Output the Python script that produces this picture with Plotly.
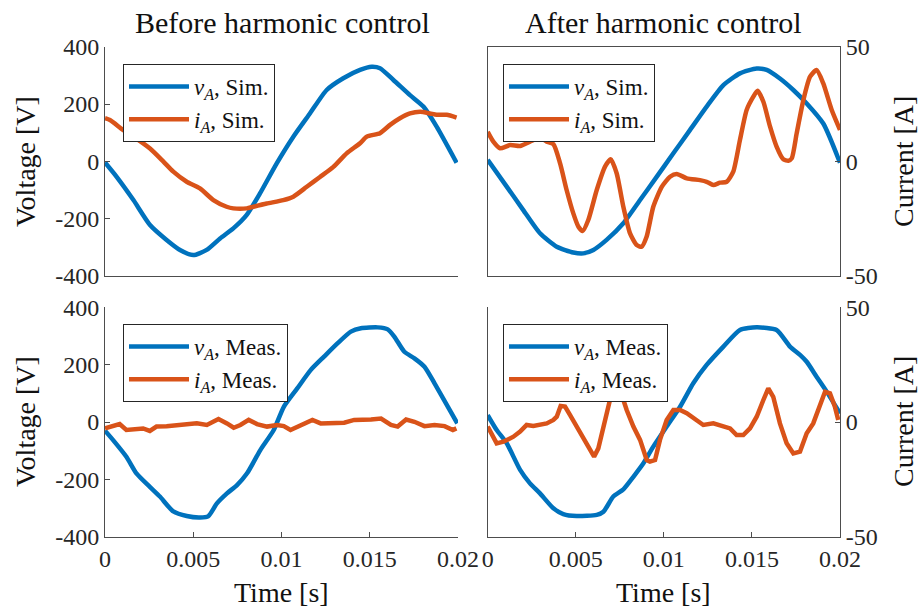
import plotly.graph_objects as go
from plotly.subplots import make_subplots

# ---------------- data ----------------
# Before harmonic control, simulation
t_bs_v = [0.0, 0.00066, 0.00161, 0.00255, 0.00349, 0.00425, 0.00500, 0.00576, 0.00652, 0.00727,
          0.00803, 0.00878, 0.00973, 0.01067, 0.01161, 0.01256, 0.01350, 0.01445, 0.01511, 0.01558,
          0.01634, 0.01728, 0.01804, 0.01879, 0.01992]
v_bs = [-4, -54, -135, -222, -274, -309, -327, -309, -269, -234,
        -187, -112, -7, 86, 167, 249, 290, 319, 330, 325,
        284, 231, 191, 121, -5]
t_bs_i = [0.0, 0.00028, 0.00104, 0.00161, 0.00255, 0.00331, 0.00387, 0.00463, 0.00538, 0.00614,
          0.00689, 0.00727, 0.00803, 0.00840, 0.00916, 0.01010, 0.01067, 0.01143, 0.01218, 0.01294,
          0.01369, 0.01445, 0.01483, 0.01558, 0.01615, 0.01671, 0.01728, 0.01785, 0.01841, 0.01879,
          0.01936, 0.01992]
i_bs = [18.8, 18.0, 13.6, 10.8, 5.6, -0.1, -4.5, -8.9, -11.8, -16.9,
        -19.8, -20.5, -20.5, -19.8, -18.4, -16.9, -15.4, -11.1, -6.8, -2.4,
        3.5, 7.9, 10.8, 12.3, 15.9, 18.8, 20.9, 21.6, 20.9, 20.3,
        20.3, 19.1]

# After harmonic control, simulation
t_as_v = [0.0, 0.00108, 0.00202, 0.00297, 0.00392, 0.00486, 0.00543, 0.00600, 0.00675, 0.00770,
          0.00865, 0.00959, 0.01054, 0.01148, 0.01243, 0.01338, 0.01432, 0.01527, 0.01584, 0.01659,
          0.01735, 0.01811, 0.01905, 0.02000]
v_as = [5, -88, -170, -251, -298, -318, -321, -309, -274, -216,
        -135, -54, 28, 109, 191, 266, 307, 324, 319, 289,
        249, 202, 132, -5]
t_as_i = [0.0, 0.00032, 0.00070, 0.00127, 0.00184, 0.00240, 0.00297, 0.00335, 0.00373, 0.00411,
          0.00448, 0.00486, 0.00515, 0.00539, 0.00571, 0.00619, 0.00666, 0.00698, 0.00732, 0.00770,
          0.00808, 0.00846, 0.00874, 0.00902, 0.00940, 0.00988, 0.01035, 0.01073, 0.01130, 0.01205,
          0.01243, 0.01281, 0.01319, 0.01357, 0.01394, 0.01432, 0.01470, 0.01508, 0.01532, 0.01565,
          0.01603, 0.01640, 0.01678, 0.01707, 0.01726, 0.01754, 0.01792, 0.01830, 0.01867, 0.01905,
          0.01953, 0.02000]
i_as = [12.9, 8.6, 5.7, 7.1, 6.7, 8.6, 10.3, 8.6, 7.5, -0.9,
        -12.5, -22.7, -28.5, -30.4, -25.6, -12.5, -2.3, 0.9, -5.2, -19.8,
        -31.4, -36.5, -37.2, -32.9, -19.8, -11.1, -6.7, -5.5, -7.4, -8.2,
        -8.9, -10.3, -9.3, -8.9, -4.5, 9.3, 22.4, 28.2, 30.8, 26.0,
        15.1, 6.4, 0.9, 0.3, 1.3, 12.2, 26.7, 36.9, 39.8, 34.0,
        22.4, 13.7]

# Before harmonic control, measurement
t_bm_v = [0.0, 0.00046, 0.00121, 0.00178, 0.00254, 0.00311, 0.00387, 0.00463, 0.00539, 0.00586,
          0.00634, 0.00691, 0.00748, 0.00805, 0.00880, 0.00956, 0.01013, 0.01089, 0.01165, 0.01241,
          0.01317, 0.01393, 0.01450, 0.01545, 0.01602, 0.01639, 0.01696, 0.01753, 0.01810, 0.01867,
          0.01943, 0.01996]
v_bm = [-30, -63, -121, -179, -226, -260, -312, -328, -333, -328,
        -284, -249, -220, -179, -98, -28, 53, 117, 181, 228,
        274, 315, 327, 330, 323, 298, 245, 222, 193, 135,
        53, -5]
t_bm_i = [0.0, 0.00046, 0.00083, 0.00121, 0.00159, 0.00216, 0.00254, 0.00292, 0.00349, 0.00406,
          0.00463, 0.00520, 0.00577, 0.00643, 0.00691, 0.00729, 0.00767, 0.00814, 0.00861, 0.00918,
          0.00975, 0.01013, 0.01051, 0.01108, 0.01175, 0.01222, 0.01298, 0.01355, 0.01412, 0.01469,
          0.01507, 0.01564, 0.01620, 0.01658, 0.01706, 0.01753, 0.01810, 0.01867, 0.01924, 0.01971,
          0.01991]
i_bm = [-2.8, -1.8, -0.9, -3.5, -3.3, -2.8, -3.9, -2.0, -1.8, -1.5,
        -0.9, -0.6, -1.3, 1.3, -0.6, -2.5, -1.3, 0.9, -0.9, -2.0,
        -1.3, -1.8, -3.5, -1.3, 0.9, -0.6, -0.6, -0.3, 0.9, 0.9,
        1.1, 1.5, -1.3, -2.0, 1.1, 0.1, -1.8, -1.3, -1.8, -3.5,
        -2.8]

# After harmonic control, measurement
t_am_v = [0.0, 0.00051, 0.00108, 0.00184, 0.00240, 0.00297, 0.00373, 0.00429, 0.00505, 0.00619,
          0.00657, 0.00713, 0.00770, 0.00827, 0.00884, 0.00940, 0.01016, 0.01092, 0.01167, 0.01243,
          0.01338, 0.01432, 0.01527, 0.01640, 0.01716, 0.01773, 0.01811, 0.01867, 0.01924, 0.02000]
v_am = [24, -28, -74, -167, -214, -249, -301, -321, -328, -324,
        -313, -260, -235, -191, -144, -86, -16, 53, 135, 199,
        263, 321, 330, 321, 263, 234, 210, 158, 106, 30]
t_am_i = [0.0, 0.00023, 0.00051, 0.00089, 0.00146, 0.00184, 0.00221, 0.00259, 0.00297, 0.00335,
          0.00373, 0.00392, 0.00414, 0.00439, 0.00467, 0.00505, 0.00543, 0.00581, 0.00604, 0.00628,
          0.00657, 0.00694, 0.00732, 0.00761, 0.00789, 0.00827, 0.00865, 0.00903, 0.00921, 0.00950,
          0.00978, 0.01016, 0.01054, 0.01092, 0.01130, 0.01167, 0.01224, 0.01281, 0.01338, 0.01376,
          0.01413, 0.01451, 0.01489, 0.01527, 0.01565, 0.01593, 0.01621, 0.01659, 0.01697, 0.01735,
          0.01773, 0.01811, 0.01848, 0.01886, 0.01915, 0.01943, 0.01971, 0.01990]
i_am = [-2.0, -4.9, -9.3, -8.6, -6.4, -4.2, -1.3, -1.7, -1.3, -0.6,
        0.9, 2.3, 7.0, 6.7, 3.1, -2.0, -7.1, -12.9, -15.1, -11.5,
        -2.0, 9.6, 13.2, 11.8, 5.2, -2.0, -7.8, -16.6, -17.3, -16.6,
        -7.8, 0.9, 5.2, 5.2, 3.8, 1.6, -1.3, -0.6, -1.7, -2.8,
        -5.7, -5.7, -2.8, 2.3, 9.6, 14.7, 11.0, -0.6, -9.3, -13.7,
        -12.9, -4.9, -0.6, 6.7, 13.2, 12.5, 6.7, 0.9]

col_titles = ["Before harmonic control", "After harmonic control"]
x_tickvals = [0, 0.005, 0.01, 0.015, 0.02]
x_ticktext = ["0", "0.005", "0.01", "0.015", "0.02"]
v_tickvals = [-400, -200, 0, 200, 400]
v_ticktext = ["-400", "-200", "0", "200", "400"]
i_tickvals = [-50, 0, 50]
i_ticktext = ["-50", "0", "50"]

# ---------------- figure ----------------
BLUE = "#0072BD"
ORANGE = "#D95319"
AX = "#4d4d4d"
FONT = "Liberation Serif"
W, H = 920, 608

fig = make_subplots(rows=2, cols=2,
                    specs=[[{"secondary_y": True}, {"secondary_y": True}],
                           [{"secondary_y": True}, {"secondary_y": True}]])

panels = [
    (1, 1, t_bs_v, v_bs, t_bs_i, i_bs, "Sim.", "legend", "spline"),
    (1, 2, t_as_v, v_as, t_as_i, i_as, "Sim.", "legend2", "spline"),
    (2, 1, t_bm_v, v_bm, t_bm_i, i_bm, "Meas.", "legend3", "linear"),
    (2, 2, t_am_v, v_am, t_am_i, i_am, "Meas.", "legend4", "linear"),
]
for r, c, tv, vv, ti, ii, kind, lg, ishape in panels:
    fig.add_trace(go.Scatter(x=tv, y=vv, mode="lines",
                             line=dict(color=BLUE, width=4.5, shape="spline", smoothing=0.6),
                             name="<i>v</i><sub><i>A</i></sub>, " + kind, legend=lg),
                  row=r, col=c, secondary_y=False)
    fig.add_trace(go.Scatter(x=ti, y=ii, mode="lines",
                             line=dict(color=ORANGE, width=4.5, shape=ishape, smoothing=0.6),
                             name="<i>i</i><sub><i>A</i></sub>, " + kind, legend=lg),
                  row=r, col=c, secondary_y=True)

xdom = {1: [105 / W, 458 / W], 2: [487.7 / W, 840 / W]}
ydom = {1: [1 - 276 / H, 1 - 46.7 / H], 2: [1 - 536.7 / H, 1 - 307.3 / H]}

tickfont = dict(family=FONT, size=24, color="#262626")
for r in (1, 2):
    for c in (1, 2):
        fig.update_xaxes(row=r, col=c, domain=xdom[c], range=[0, 0.02], automargin=False,
                         showline=True, linecolor=AX, linewidth=1,
                         mirror=(r == 1 and c == 2),
                         showgrid=False, zeroline=False,
                         tickvals=x_tickvals, ticktext=x_ticktext,
                         showticklabels=(r == 2),
                         ticks="inside" if r == 2 else "", ticklen=5, tickcolor=AX,
                         tickfont=tickfont)
        fig.update_yaxes(row=r, col=c, secondary_y=False, domain=ydom[r], range=[-400, 400],
                         automargin=False,
                         showline=True, linecolor=AX, linewidth=1,
                         showgrid=False, zeroline=False,
                         tickvals=v_tickvals, ticktext=v_ticktext,
                         showticklabels=(c == 1),
                         ticks="inside" if c == 1 else "", ticklen=5, tickcolor=AX,
                         tickfont=tickfont)
        fig.update_yaxes(row=r, col=c, secondary_y=True, domain=ydom[r], range=[-50, 50],
                         automargin=False, visible=(c == 2),
                         showline=True, linecolor=AX, linewidth=1,
                         showgrid=False, zeroline=False,
                         tickvals=i_tickvals, ticktext=i_ticktext,
                         ticks="inside", ticklen=5, tickcolor=AX,
                         tickfont=tickfont)

legend_style = dict(bgcolor="white", bordercolor="#262626", borderwidth=1,
                    font=dict(family=FONT, size=23, color="#111"),
                    xanchor="left", yanchor="top", itemwidth=60,
                    traceorder="normal", tracegroupgap=0)
fig.update_layout(
    legend=dict(x=123 / W, y=1 - 64 / H, **legend_style),
    legend2=dict(x=503 / W, y=1 - 64 / H, **legend_style),
    legend3=dict(x=123 / W, y=1 - 324 / H, **legend_style),
    legend4=dict(x=503 / W, y=1 - 324 / H, **legend_style),
)

TXT = "#111"
annots = [
    dict(text=col_titles[0], x=282 / W, y=1 - 22 / H, font=dict(family=FONT, size=30, color=TXT)),
    dict(text=col_titles[1], x=663 / W, y=1 - 22 / H, font=dict(family=FONT, size=30, color=TXT)),
    dict(text="Voltage [V]", x=25 / W, y=1 - 162 / H, textangle=-90, font=dict(family=FONT, size=28, color=TXT)),
    dict(text="Voltage [V]", x=25 / W, y=1 - 422 / H, textangle=-90, font=dict(family=FONT, size=28, color=TXT)),
    dict(text="Current [A]", x=903 / W, y=1 - 162 / H, textangle=-90, font=dict(family=FONT, size=28, color=TXT)),
    dict(text="Current [A]", x=903 / W, y=1 - 422 / H, textangle=-90, font=dict(family=FONT, size=28, color=TXT)),
    dict(text="Time [s]", x=281 / W, y=1 - 592 / H, font=dict(family=FONT, size=28, color=TXT)),
    dict(text="Time [s]", x=663 / W, y=1 - 592 / H, font=dict(family=FONT, size=28, color=TXT)),
]
for a in annots:
    a.update(xref="paper", yref="paper", showarrow=False, xanchor="center", yanchor="middle")
fig.update_layout(annotations=annots)

fig.update_layout(width=W, height=H, margin=dict(l=0, r=0, t=0, b=0),
                  paper_bgcolor="white", plot_bgcolor="white", showlegend=True,
                  font=dict(family=FONT))

fig.write_html("out.html", config={"displayModeBar": False},
               post_script="document.body.style.margin='0';document.body.style.overflow='hidden';")
